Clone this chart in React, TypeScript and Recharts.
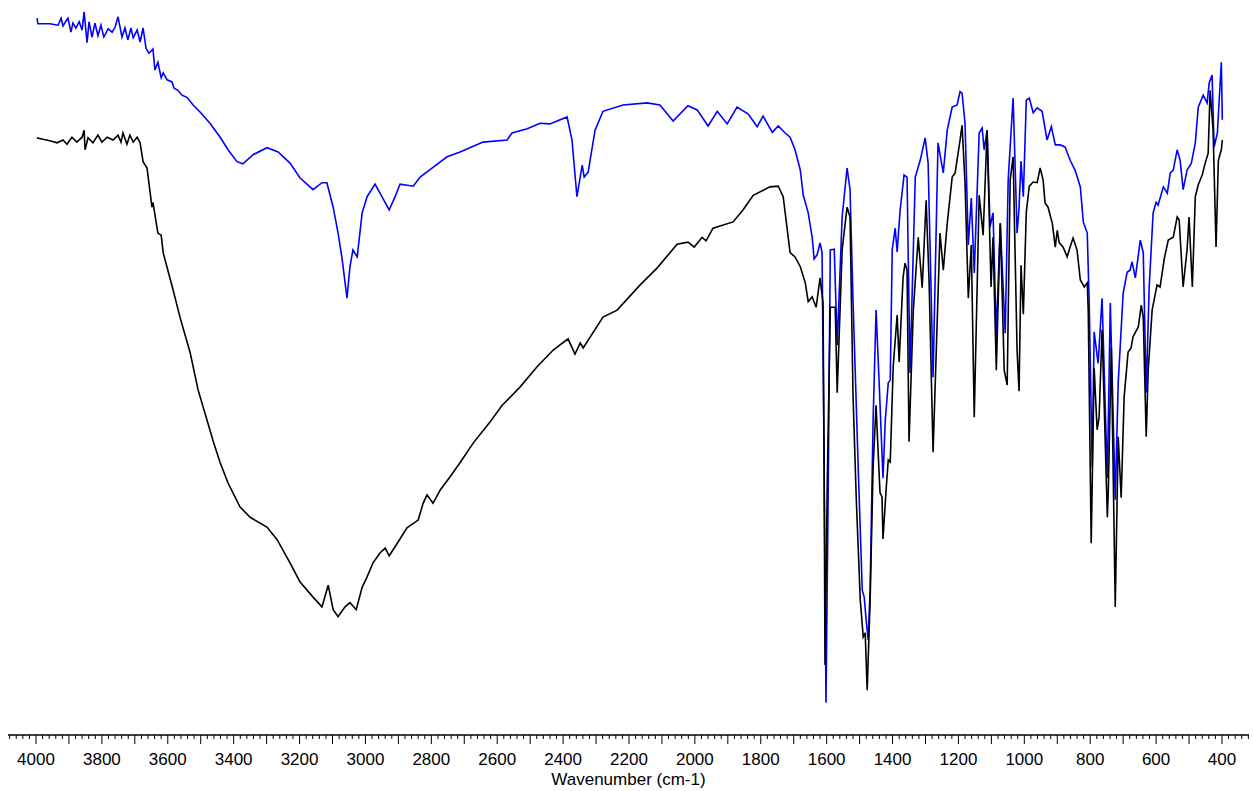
import { LineChart, Line, XAxis, YAxis } from 'recharts'

// upper (blue) spectrum
const BLUE_WN = [
  3997, 3994, 3958, 3933, 3924, 3918, 3909, 3903, 3894, 3888, 3879, 3869, 3860, 3854, 3845, 3839, 3830, 3821, 3812, 3803,
  3794, 3781, 3769, 3760, 3751, 3739, 3730, 3721, 3712, 3705, 3693, 3684, 3675, 3666, 3657, 3645, 3639, 3630, 3620, 3614,
  3602, 3587, 3581, 3569, 3557, 3542, 3523, 3502, 3472, 3441, 3417, 3390, 3372, 3341, 3299, 3265, 3229, 3199, 3159, 3132,
  3117, 3098, 3083, 3071, 3056, 3047, 3038, 3025, 3010, 2995, 2971, 2950, 2928, 2910, 2895, 2855, 2834, 2795, 2752, 2713,
  2643, 2570, 2555, 2509, 2470, 2440, 2388, 2373, 2358, 2342, 2336, 2324, 2303, 2279, 2218, 2145, 2106, 2066, 2021, 1993,
  1960, 1932, 1902, 1872, 1838, 1811, 1793, 1765, 1747, 1726, 1711, 1696, 1680, 1671, 1656, 1644, 1638, 1629, 1620, 1614,
  1608, 1602, 1595, 1589, 1577, 1568, 1553, 1538, 1529, 1520, 1504, 1492, 1486, 1480, 1474, 1468, 1459, 1450, 1441, 1429,
  1422, 1413, 1407, 1401, 1392, 1386, 1377, 1365, 1356, 1347, 1331, 1316, 1301, 1292, 1277, 1262, 1246, 1234, 1219, 1204,
  1195, 1189, 1180, 1170, 1161, 1152, 1137, 1128, 1122, 1113, 1104, 1095, 1085, 1073, 1058, 1049, 1034, 1022, 1016, 1010,
  1003, 994, 985, 973, 961, 946, 931, 918, 906, 891, 876, 861, 846, 830, 821, 809, 803, 794, 788, 776,
  764, 748, 739, 724, 715, 700, 688, 679, 673, 663, 648, 639, 630, 621, 609, 600, 594, 578, 566, 557,
  548, 536, 527, 518, 506, 493, 481, 472, 457, 445, 439, 430, 424, 414, 402, 399,
]
const BLUE_T = [
  102.4, 101.6, 101.6, 101.4, 102.4, 101.3, 102.0, 102.4, 100.4, 101.7, 101.0, 101.9, 100.7, 103.3, 98.9, 101.9, 99.7, 101.7, 99.9, 101.4,
  99.7, 100.9, 100.4, 101.1, 102.6, 99.7, 101.0, 99.3, 101.0, 99.6, 100.7, 99.0, 101.0, 98.1, 97.4, 98.0, 95.0, 96.1, 93.9, 94.6,
  93.6, 93.3, 92.4, 92.1, 91.4, 91.1, 90.0, 89.0, 87.4, 85.4, 83.6, 81.9, 81.6, 82.9, 83.9, 83.3, 81.7, 79.6, 77.9, 78.9,
  78.9, 75.4, 71.7, 68.1, 62.4, 66.9, 69.3, 68.3, 74.6, 76.9, 78.7, 76.9, 75.0, 76.9, 78.7, 78.4, 79.7, 81.1, 82.6, 83.3,
  84.7, 85.0, 86.0, 86.6, 87.4, 87.3, 88.3, 85.0, 76.9, 81.4, 79.7, 80.4, 86.4, 89.1, 90.0, 90.3, 90.0, 87.7, 89.9, 89.3,
  87.0, 89.1, 87.3, 89.7, 88.7, 86.9, 88.4, 86.1, 87.0, 86.0, 85.4, 83.6, 80.7, 77.1, 74.6, 71.1, 68.0, 68.6, 70.3, 68.9,
  40.7, 4.6, 36.4, 69.3, 69.4, 55.7, 74.0, 81.0, 77.9, 62.1, 37.9, 20.7, 19.7, 16.4, 13.6, 20.7, 45.0, 60.7, 50.7, 36.7,
  45.0, 50.3, 50.7, 69.3, 72.4, 69.0, 75.0, 80.0, 79.7, 51.7, 79.7, 82.1, 85.3, 81.7, 51.1, 84.6, 80.3, 86.4, 89.7, 90.0,
  91.9, 91.7, 87.4, 70.0, 76.7, 66.0, 86.0, 86.7, 83.6, 86.4, 72.6, 74.6, 57.1, 73.1, 57.4, 79.3, 91.0, 71.7, 75.3, 82.0,
  76.9, 90.7, 91.0, 88.9, 89.6, 89.1, 85.0, 86.9, 84.3, 84.3, 84.0, 82.1, 80.7, 78.3, 73.3, 71.7, 61.7, 38.3, 57.6, 53.1,
  62.4, 36.7, 61.7, 33.6, 50.3, 63.1, 66.1, 66.4, 67.6, 65.3, 70.7, 68.9, 48.9, 64.0, 74.6, 76.1, 75.7, 78.3, 77.4, 80.3,
  80.7, 83.6, 82.1, 77.9, 80.7, 81.7, 84.6, 89.7, 91.4, 90.3, 93.1, 94.3, 84.0, 86.0, 96.1, 87.9,
]

// lower (black) spectrum
const BLACK_WN = [
  3997, 3979, 3958, 3936, 3918, 3906, 3891, 3876, 3860, 3854, 3851, 3842, 3827, 3812, 3800, 3784, 3766, 3751, 3742, 3736,
  3724, 3715, 3705, 3693, 3684, 3675, 3663, 3648, 3645, 3630, 3620, 3614, 3584, 3563, 3532, 3508, 3481, 3463, 3441, 3417,
  3381, 3350, 3299, 3268, 3229, 3199, 3159, 3132, 3113, 3098, 3083, 3062, 3047, 3028, 3010, 2995, 2977, 2956, 2940, 2928,
  2910, 2874, 2840, 2825, 2813, 2795, 2773, 2743, 2713, 2673, 2622, 2585, 2531, 2479, 2430, 2385, 2364, 2348, 2339, 2279,
  2236, 2166, 2115, 2054, 2021, 2002, 1978, 1966, 1945, 1884, 1854, 1823, 1772, 1747, 1732, 1711, 1696, 1680, 1665, 1656,
  1644, 1632, 1620, 1611, 1608, 1605, 1598, 1589, 1574, 1568, 1553, 1538, 1529, 1520, 1510, 1498, 1489, 1483, 1477, 1468,
  1459, 1450, 1444, 1438, 1432, 1429, 1419, 1413, 1407, 1398, 1386, 1380, 1368, 1362, 1356, 1350, 1337, 1322, 1310, 1298,
  1289, 1277, 1256, 1246, 1234, 1219, 1210, 1195, 1189, 1180, 1170, 1161, 1152, 1137, 1125, 1113, 1101, 1095, 1085, 1073,
  1061, 1052, 1043, 1034, 1022, 1016, 1010, 1003, 994, 985, 973, 961, 952, 943, 937, 928, 915, 906, 900, 894,
  882, 870, 861, 852, 840, 830, 818, 809, 806, 797, 788, 779, 773, 764, 748, 745, 736, 724, 715, 706,
  697, 685, 676, 670, 654, 645, 639, 630, 624, 612, 597, 588, 575, 563, 548, 536, 530, 518, 506, 500,
  490, 481, 472, 460, 451, 442, 436, 427, 418, 411, 402, 399,
]
const BLACK_T = [
  85.3, 85.1, 84.9, 84.6, 85.0, 84.4, 85.4, 84.7, 85.4, 86.4, 83.6, 85.3, 84.6, 85.7, 84.7, 85.4, 85.0, 85.7, 84.7, 86.0,
  84.4, 85.7, 84.7, 85.4, 84.6, 81.9, 81.0, 75.4, 76.1, 71.7, 71.4, 68.9, 63.6, 59.7, 54.6, 49.3, 45.0, 42.1, 38.9, 36.0,
  32.6, 31.1, 29.7, 27.9, 24.6, 21.9, 19.7, 18.3, 21.4, 17.9, 16.9, 18.3, 18.9, 17.9, 21.1, 22.6, 24.6, 26.0, 26.7, 25.6,
  26.9, 29.6, 30.7, 33.1, 34.3, 33.1, 35.0, 36.9, 38.9, 41.7, 44.7, 47.1, 49.7, 52.6, 55.0, 56.6, 54.4, 56.0, 55.3, 59.7,
  60.7, 64.3, 66.7, 70.1, 70.4, 69.7, 71.1, 70.6, 72.4, 73.3, 75.0, 77.1, 78.3, 78.4, 76.9, 68.9, 68.3, 66.9, 64.6, 61.9,
  62.6, 61.1, 65.3, 61.7, 40.7, 10.0, 36.4, 61.1, 61.1, 48.9, 69.3, 75.4, 74.0, 48.6, 33.6, 19.3, 14.0, 14.6, 6.4, 19.3,
  38.3, 47.1, 40.7, 34.6, 34.0, 28.0, 35.4, 39.3, 39.0, 52.6, 60.0, 53.3, 65.4, 67.4, 66.4, 41.9, 60.7, 71.1, 63.9, 76.4,
  64.6, 40.4, 71.7, 66.4, 73.1, 79.7, 80.3, 85.0, 87.1, 78.9, 62.4, 70.0, 45.4, 77.1, 71.4, 86.4, 64.0, 71.1, 52.1, 73.1,
  52.1, 50.0, 79.3, 82.6, 55.0, 49.1, 67.1, 60.1, 74.7, 78.4, 79.0, 78.9, 81.0, 79.3, 76.0, 75.4, 73.1, 69.7, 72.1, 70.3,
  69.7, 68.3, 69.7, 71.0, 69.3, 65.0, 64.0, 64.6, 60.7, 27.4, 52.4, 43.6, 45.4, 57.9, 31.1, 35.0, 55.4, 18.3, 42.6, 33.9,
  48.3, 54.7, 55.3, 56.9, 58.3, 61.4, 59.7, 42.6, 52.1, 60.7, 64.3, 64.0, 68.1, 70.7, 71.1, 74.0, 73.6, 64.0, 69.3, 74.0,
  64.0, 76.9, 78.6, 80.0, 81.7, 83.1, 92.1, 86.4, 69.7, 82.1, 83.6, 85.0,
]

const TICK_LABELS = [4000, 3800, 3600, 3400, 3200, 3000, 2800, 2600, 2400, 2200, 2000, 1800, 1600, 1400, 1200, 1000, 800, 600, 400]

const blueData = BLUE_WN.map((wn, i) => ({ wn, t: BLUE_T[i] }))
const blackData = BLACK_WN.map((wn, i) => ({ wn, t: BLACK_T[i] }))

const minorTicks: number[] = []
for (let v = 320; v <= 4080; v += 20) minorTicks.push(v)

const FONT = '"Liberation Sans", Arial, sans-serif'

function WaveTick({ x, y, payload }: any) {
  const v = payload.value
  const len = v % 100 === 0 ? 9 : 4
  return (
    <g>
      <line x1={x} x2={x} y1={y} y2={y + len} stroke="#000" strokeWidth={1} />
      {TICK_LABELS.includes(v) && (
        <text x={x} y={y + 30} textAnchor="middle" fontSize={17} fill="#000" fontFamily={FONT}>
          {v}
        </text>
      )}
    </g>
  )
}

export default function App() {
  return (
    <div style={{ position: 'absolute', left: 0, top: 0, background: '#fff' }}>
      <LineChart width={1253} height={791} margin={{ top: 0, right: 4, bottom: 0, left: 8 }}>
        <XAxis
          dataKey="wn"
          type="number"
          domain={[318, 4085]}
          reversed
          allowDataOverflow
          ticks={minorTicks}
          interval={0}
          tick={<WaveTick />}
          tickLine={false}
          tickSize={0}
          tickMargin={0}
          height={56}
          axisLine={{ stroke: '#000', strokeWidth: 1.5 }}
          label={{ value: 'Wavenumber (cm-1)', position: 'insideBottom', offset: 6, fill: '#000', fontSize: 17, fontFamily: FONT }}
        />
        <YAxis hide domain={[0, 105]} allowDataOverflow />
        <Line
          data={blueData}
          dataKey="t"
          type="linear"
          stroke="#0000ff"
          strokeWidth={1.6}
          dot={false}
          isAnimationActive={false}
        />
        <Line
          data={blackData}
          dataKey="t"
          type="linear"
          stroke="#000000"
          strokeWidth={1.6}
          dot={false}
          isAnimationActive={false}
        />
      </LineChart>
    </div>
  )
}
